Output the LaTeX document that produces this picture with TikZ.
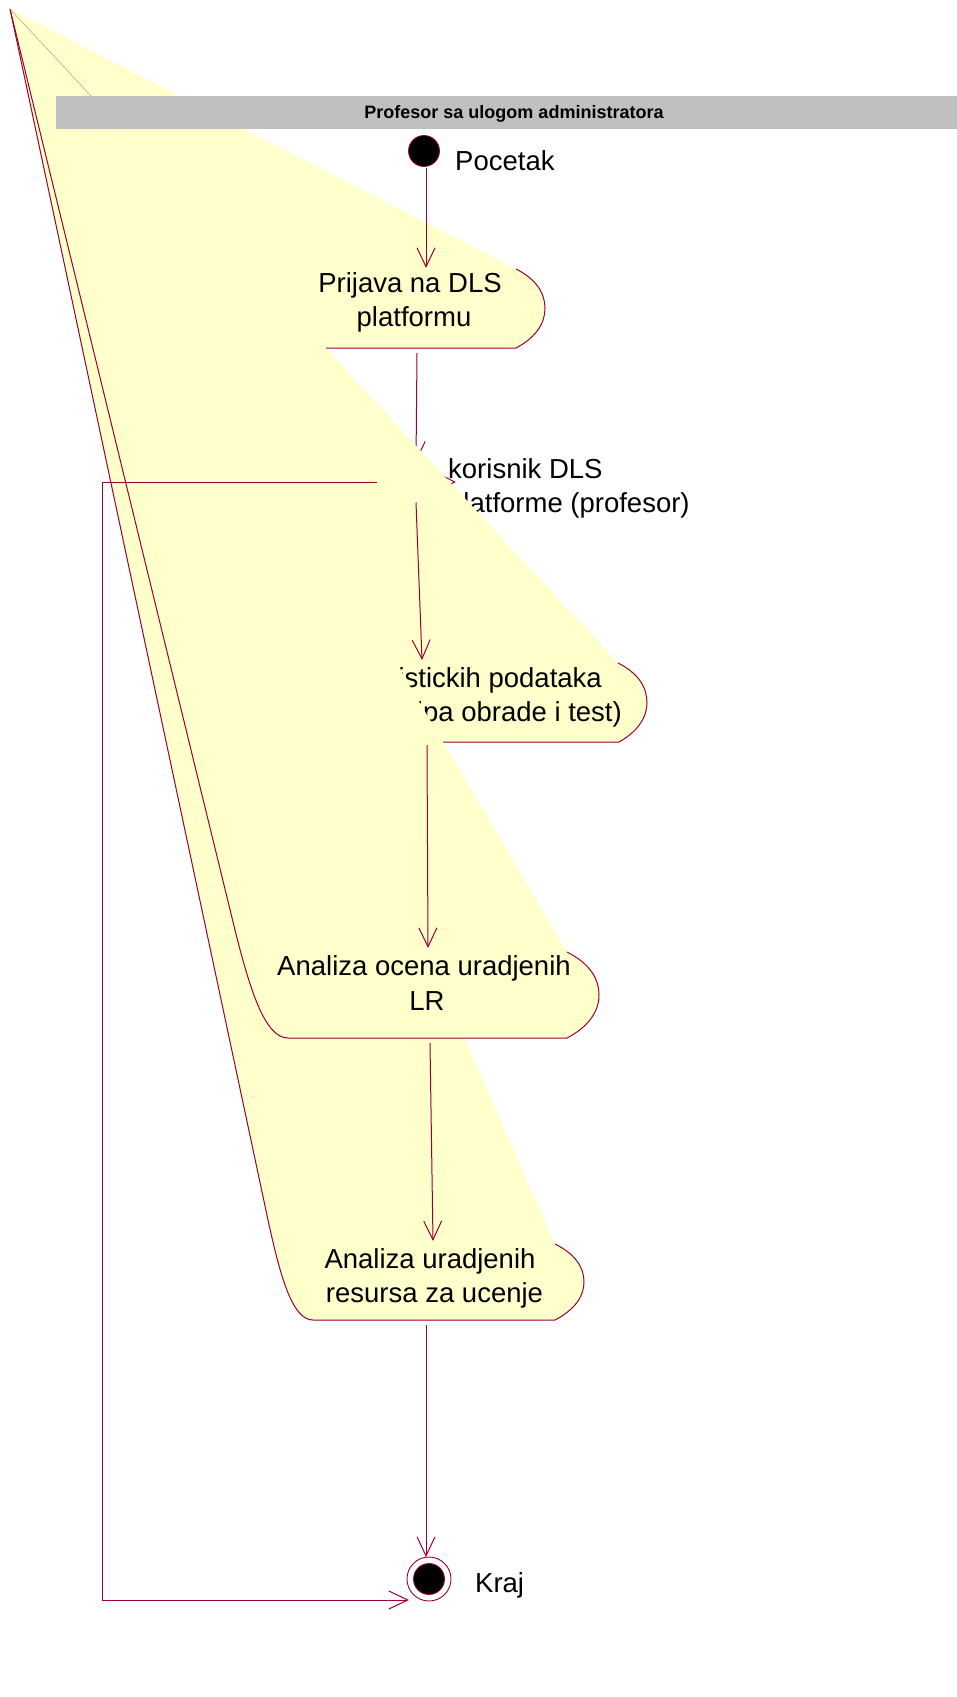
\documentclass[tikz,border=0pt]{standalone}
\usepackage{fontspec}
\setmainfont{Liberation Sans}
\usetikzlibrary{arrows.meta,shapes.geometric}
\definecolor{linecol}{RGB}{153,0,51}
\definecolor{actfill}{RGB}{255,255,204}
\definecolor{barfill}{RGB}{192,192,192}

\begin{document}
\begin{tikzpicture}[x=1pt,y=-1pt,
  conn/.style={draw=linecol, line width=1pt},
  arr/.style={conn, -{Straight Barb[length=19pt,width=18pt]}},
  outline/.style={draw=linecol, line width=1pt, line join=round},
  lbl/.style={inner sep=0pt, anchor=base, font=\fontsize{27.5}{33}\selectfont},
  lblw/.style={lbl, anchor=base west},
  lble/.style={lbl, anchor=base east},
  dot/.style={circle, fill=black, draw=linecol, line width=0.8pt, minimum size=31pt, inner sep=0pt}
]
\useasboundingbox (0,0) rectangle (957,1697);
\fill[white] (0,0) rectangle (957,1697);

% shared corner of all activity outlines
\coordinate (apex) at (10,9);

% start and end states
\node[dot] (start) at (424,151) {};
\node[circle, draw=linecol, fill=white, line width=0.9pt, minimum size=44pt, inner sep=0pt] (endc) at (429,1579) {};
\node[dot] (endin) at (endc.center) {};

% connector end points
\coordinate (a0out) at (426,168);
\coordinate (a1in)  at (426,268);
\coordinate (a1out) at (417,353);
\coordinate (a2in)  at (422,660);
\coordinate (a2out) at (427,745);
\coordinate (a3in)  at (428,948);
\coordinate (a3out) at (430,1043);
\coordinate (a4in)  at (433,1241);
\coordinate (a4out) at (426,1325);
\coordinate (endtop) at (426,1557);
\coordinate (r1)    at (102,482);
\coordinate (r2)    at (102,1600);
\coordinate (rhit)  at (409,1600);

% activity 1
\fill[actfill] (apex) -- (516,269) .. controls (536,279) and (545,293) .. (545,308.5)
  .. controls (545,324) and (535,338) .. (516,348) -- (326,348) -- cycle;
\draw[outline] (516,269) .. controls (536,279) and (545,293) .. (545,308.5)
  .. controls (545,324) and (535,338) .. (516,348) -- (326,348);
\node[lbl] (p1a) at (410,292.7) {Prijava na DLS};
\node[lbl] (p1b) at (414,326.7) {platformu};

\draw[arr] (a0out) -- (a1in);

% decision with its guard text
\node[diamond, draw=linecol, line width=1pt, minimum width=78pt, minimum height=40pt, inner sep=0pt] (dec) at (416,482) {};
\draw[arr] (a1out) -- (dec.north);
\node[lblw] (g1) at (448,478.3) {korisnik DLS};
\node[lblw] (g2) at (448,512.7) {platforme (profesor)};

% activity 2
\fill[actfill] (apex) -- (618,663) .. controls (638,673) and (647,687) .. (647,702.5)
  .. controls (647,718) and (637,732) .. (619,742) -- (442,742) -- cycle;
\draw[outline] (618,663) .. controls (638,673) and (647,687) .. (647,702.5)
  .. controls (647,718) and (637,732) .. (619,742) -- (442,742);
\node[lble] (p2a) at (602,687.3) {statistickih podataka};
\node[lble] (p2b) at (622,721.7) {(tipa obrade i test)};

% activities 4 and 3 (fills)
\fill[actfill] (apex) -- (555,1244) .. controls (575,1254) and (584,1267) .. (584,1282)
  .. controls (584,1297) and (574,1310) .. (555,1320) -- (313,1320)
  .. controls (292,1320) and (280,1275) .. (268,1220) -- cycle;
\fill[actfill] (apex) -- (567,952) .. controls (589,963) and (599,978) .. (599,995)
  .. controls (599,1012) and (588,1027) .. (567,1038) -- (288,1038)
  .. controls (265,1038) and (250,990) .. (235,930) -- cycle;

% activities 3 and 4 (outlines)
\draw[outline] (567,952) .. controls (589,963) and (599,978) .. (599,995)
  .. controls (599,1012) and (588,1027) .. (567,1038) -- (288,1038)
  .. controls (265,1038) and (250,990) .. (235,930) -- (apex);
\draw[outline] (555,1244) .. controls (575,1254) and (584,1267) .. (584,1282)
  .. controls (584,1297) and (574,1310) .. (555,1320) -- (313,1320)
  .. controls (292,1320) and (280,1275) .. (268,1220) -- (apex);

\node[lbl] (p3a) at (424,975) {Analiza ocena uradjenih};
\node[lbl] (p3b) at (427,1010) {LR};
\node[lbl] (p4a) at (430,1268) {Analiza uradjenih};
\node[lbl] (p4b) at (434.5,1302) {resursa za ucenje};

% transitions
\draw[arr] (dec.south) -- (a2in);
\draw[arr] (a2out) -- (a3in);
\draw[arr] (a3out) -- (a4in);
\draw[arr] (a4out) -- (endtop);
\draw[arr] (dec.west) -- (r1) -- (r2) -- (rhit);

% faint edge near the corner
\draw[linecol!45!actfill, line width=0.5pt] (apex) -- (91,96);

% swimlane header
\fill[barfill] (56,96) rectangle (957,129);
\node[inner sep=0pt, anchor=base, font=\bfseries\fontsize{18}{21}\selectfont] (title) at (514,118.3) {Profesor sa ulogom administratora};

% state labels
\node[lblw] (plabel) at (455,170) {Pocetak};
\node[lblw] (klabel) at (475,1592.5) {Kraj};
\end{tikzpicture}
\end{document}
